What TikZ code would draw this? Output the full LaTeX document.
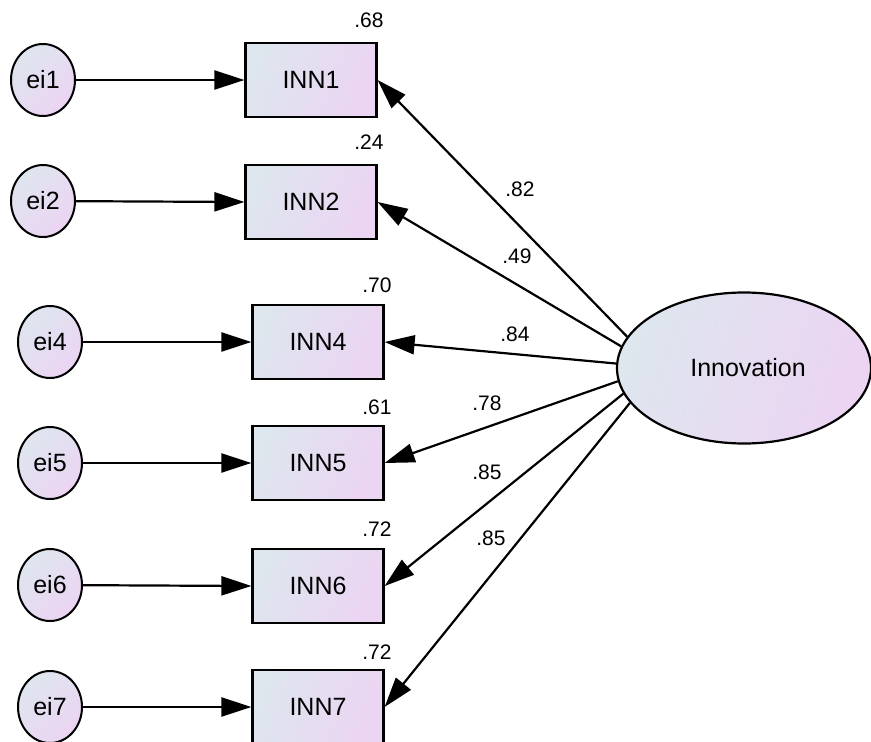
\documentclass[tikz,border=0pt]{standalone}
\usepackage{fontspec}
\setmainfont{Liberation Sans}
\usetikzlibrary{arrows.meta,shapes.geometric}
\definecolor{fillA}{RGB}{222,230,238}
\definecolor{fillB}{RGB}{236,212,243}
\begin{document}
\begin{tikzpicture}[x=1pt,y=-1pt,
  obs/.style={draw,line width=2.2pt,rectangle,minimum width=131pt,minimum height=74pt,
    inner sep=0pt,top color=fillA,bottom color=fillB,shading angle=70,
    font=\fontsize{25}{30}\selectfont},
  err/.style={draw,line width=2pt,ellipse,minimum width=64pt,minimum height=72pt,
    inner sep=0pt,top color=fillA,bottom color=fillB,shading angle=45,
    font=\fontsize{25}{30}\selectfont},
  lat/.style={draw,line width=2.2pt,ellipse,minimum width=254pt,minimum height=151pt,
    inner sep=0pt,top color=fillA,bottom color=fillB,shading angle=70,
    font=\fontsize{25}{30}\selectfont},
  link/.style={line width=2.2pt,-{Triangle[length=30pt,width=19pt]}},
  coef/.style={font=\fontsize{21}{25}\selectfont,inner sep=0pt}
]
\useasboundingbox (0,0) rectangle (871,742);

% error terms
\node[err] (e1) at (43,80)  {ei1};
\node[err] (e2) at (43,201) {ei2};
\node[err] (e4) at (50,342) {ei4};
\node[err] (e5) at (50,463) {ei5};
\node[err] (e6) at (50,585) {ei6};
\node[err] (e7) at (50,707) {ei7};

% indicators
\node[obs] (i1) at (311,80)  {INN1};
\node[obs] (i2) at (311,202) {INN2};
\node[obs] (i4) at (318,342) {INN4};
\node[obs] (i5) at (318,463) {INN5};
\node[obs] (i6) at (318,586) {INN6};
\node[obs] (i7) at (318,707) {INN7};

% latent factor
\node[lat] (f) at (744,368) {\hspace*{8pt}Innovation};

% error paths
\foreach \k in {1,2,4,5,6,7}
  \draw[link] (e\k) -- (i\k.west);

% loadings, fanning out from the left side of the factor
\foreach \k/\a in {1/165,2/170,4/178,5/186,6/192.5,7/197}
  \draw[link] (f.\a) -- (i\k.east);

% squared multiple correlations
\node[coef] (r1) at (369,20)  {.68};
\node[coef] (r2) at (369,142) {.24};
\node[coef] (r4) at (377,285) {.70};
\node[coef] (r5) at (377,407) {.61};
\node[coef] (r6) at (377,529) {.72};
\node[coef] (r7) at (377,652) {.72};

% standardized loadings
\node[coef] (l1) at (520,189) {.82};
\node[coef] (l2) at (517,256) {.49};
\node[coef] (l4) at (515,334) {.84};
\node[coef] (l5) at (487,403) {.78};
\node[coef] (l6) at (487,472) {.85};
\node[coef] (l7) at (491,538) {.85};
\end{tikzpicture}
\end{document}
